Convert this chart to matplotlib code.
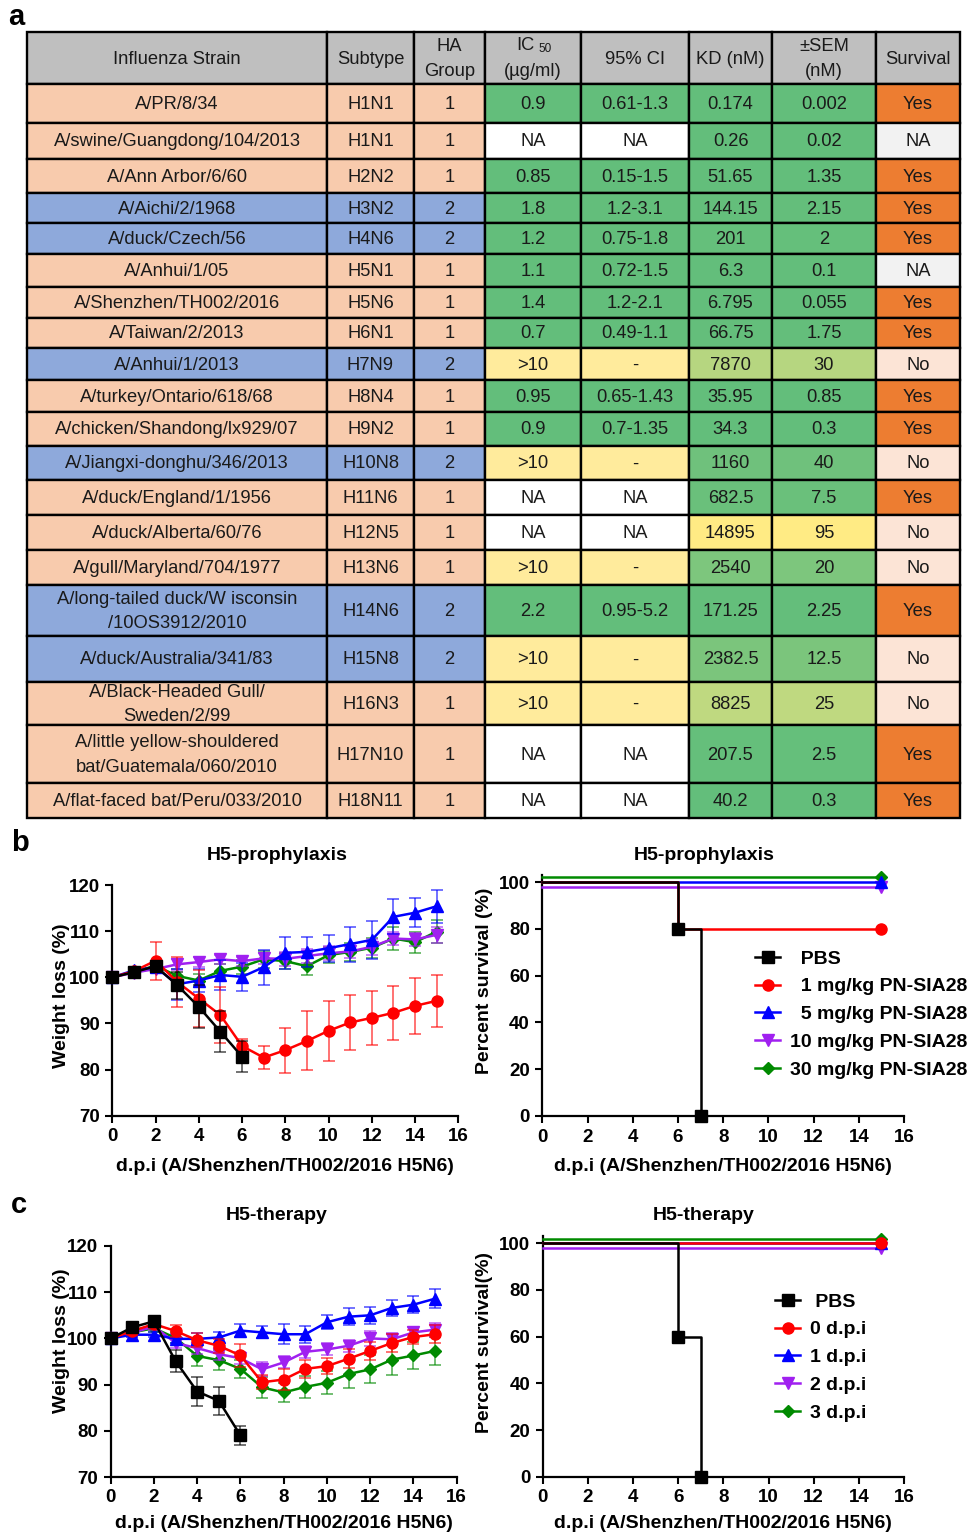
import numpy as np
import matplotlib
matplotlib.use('Agg')
import matplotlib.pyplot as plt
from matplotlib.patches import Rectangle
from matplotlib.lines import Line2D
from matplotlib.colors import LinearSegmentedColormap
import matplotlib.transforms as mtransforms

plt.rcParams['font.family'] = ['Liberation Sans', 'DejaVu Sans']
plt.rcParams['font.weight'] = 'bold'

W, H, DPI = 971, 1532, 100

# ---------------- table data (panel a) ----------------
headers = ['Influenza Strain', 'Subtype', 'HA\nGroup', 'IC50', '95% CI', 'KD (nM)', '±SEM\n(nM)', 'Survival']
strains = ['A/PR/8/34', 'A/swine/Guangdong/104/2013', 'A/Ann Arbor/6/60', 'A/Aichi/2/1968',
           'A/duck/Czech/56', 'A/Anhui/1/05', 'A/Shenzhen/TH002/2016', 'A/Taiwan/2/2013',
           'A/Anhui/1/2013', 'A/turkey/Ontario/618/68', 'A/chicken/Shandong/lx929/07',
           'A/Jiangxi-donghu/346/2013', 'A/duck/England/1/1956', 'A/duck/Alberta/60/76',
           'A/gull/Maryland/704/1977', 'A/long-tailed duck/W isconsin\n/10OS3912/2010',
           'A/duck/Australia/341/83', 'A/Black-Headed Gull/\nSweden/2/99',
           'A/little yellow-shouldered\nbat/Guatemala/060/2010', 'A/flat-faced bat/Peru/033/2010']
subtypes = ['H1N1', 'H1N1', 'H2N2', 'H3N2', 'H4N6', 'H5N1', 'H5N6', 'H6N1', 'H7N9', 'H8N4',
            'H9N2', 'H10N8', 'H11N6', 'H12N5', 'H13N6', 'H14N6', 'H15N8', 'H16N3', 'H17N10', 'H18N11']
ha_group = [1, 1, 1, 2, 2, 1, 1, 1, 2, 1, 1, 2, 1, 1, 1, 2, 2, 1, 1, 1]
ic50 = ['0.9', 'NA', '0.85', '1.8', '1.2', '1.1', '1.4', '0.7', '>10', '0.95', '0.9', '>10',
        'NA', 'NA', '>10', '2.2', '>10', '>10', 'NA', 'NA']
ci95 = ['0.61-1.3', 'NA', '0.15-1.5', '1.2-3.1', '0.75-1.8', '0.72-1.5', '1.2-2.1', '0.49-1.1',
        '-', '0.65-1.43', '0.7-1.35', '-', 'NA', 'NA', '-', '0.95-5.2', '-', '-', 'NA', 'NA']
kd = [0.174, 0.26, 51.65, 144.15, 201, 6.3, 6.795, 66.75, 7870, 35.95, 34.3, 1160, 682.5,
      14895, 2540, 171.25, 2382.5, 8825, 207.5, 40.2]
kd_sem = [0.002, 0.02, 1.35, 2.15, 2, 0.1, 0.055, 1.75, 30, 0.85, 0.3, 40, 7.5, 95, 20, 2.25,
          12.5, 25, 2.5, 0.3]
survival = ['Yes', 'NA', 'Yes', 'Yes', 'Yes', 'NA', 'Yes', 'Yes', 'No', 'Yes', 'Yes', 'No',
            'Yes', 'No', 'No', 'Yes', 'No', 'No', 'Yes', 'Yes']

# ---------------- weight data (panels b, c) ----------------
days = np.arange(16)
b_pbs = [100, 101.1, 102.4, 98.3, 93.6, 88.2, 82.8]
b_pbs_err = [0.3, 0.8, 1.0, 2.9, 4.7, 4.4, 3.3]
b_1mg = [100, 101.3, 103.6, 99.0, 95.4, 91.8, 85.1, 82.6, 84.2, 86.2, 88.4, 90.2, 91.2, 92.3, 93.8, 94.9]
b_1mg_err = [0.3, 0.8, 4.1, 5.4, 6.1, 6.1, 1.5, 2.4, 4.9, 6.4, 6.5, 6.0, 5.9, 5.8, 6.1, 5.6]
b_5mg = [100, 101.5, 102.2, 98.5, 99.3, 100.5, 100.1, 102.2, 105.3, 105.5, 106.3, 107.2, 108.1, 113.1, 114.0, 115.4]
b_5mg_err = [0.3, 0.8, 1.0, 3.4, 2.5, 3.2, 3.1, 3.8, 3.4, 3.3, 2.9, 3.8, 4.1, 3.8, 3.1, 3.6]
b_10mg = [100, 101.0, 101.8, 102.8, 103.3, 103.9, 103.5, 104.1, 104.0, 104.6, 105.2, 105.6, 106.6, 108.4, 108.2, 109.2]
b_10mg_err = [0.3, 0.6, 0.8, 1.2, 1.0, 1.0, 1.0, 1.2, 1.5, 1.5, 1.5, 1.5, 1.8, 1.5, 1.4, 1.7]
b_30mg = [100, 101.2, 102.5, 100.3, 99.3, 101.4, 102.3, 103.9, 103.5, 102.4, 104.8, 105.5, 106.4, 108.4, 107.6, 109.9]
b_30mg_err = [0.3, 0.6, 0.8, 1.4, 1.5, 1.4, 1.5, 1.8, 1.8, 2.0, 1.8, 2.0, 2.2, 2.5, 2.3, 2.5]

c_pbs = [100, 102.4, 103.7, 95.1, 88.5, 86.5, 79.0]
c_pbs_err = [0.3, 0.7, 0.7, 2.3, 3.1, 3.0, 2.0]
c_0dpi = [100, 101.6, 103.1, 101.6, 99.6, 98.4, 96.3, 90.5, 91.1, 93.4, 94.0, 95.6, 97.3, 99.0, 100.3, 100.9]
c_0dpi_err = [0.3, 0.8, 0.8, 1.2, 1.5, 1.5, 2.5, 1.5, 2.2, 2.0, 1.8, 2.0, 2.0, 2.0, 1.5, 2.0]
c_1dpi = [100, 100.8, 100.8, 99.9, 99.9, 100.2, 101.7, 101.3, 100.9, 100.9, 103.5, 104.7, 105.0, 106.6, 107.3, 108.6]
c_1dpi_err = [0.3, 0.6, 0.6, 1.0, 1.3, 1.2, 1.4, 1.3, 2.2, 1.8, 1.5, 1.8, 1.8, 1.8, 1.8, 2.1]
c_2dpi = [100, 101.2, 102.6, 99.0, 97.9, 96.6, 95.7, 93.3, 94.8, 97.1, 97.6, 98.4, 100.0, 99.8, 101.3, 101.9]
c_2dpi_err = [0.3, 0.8, 0.8, 1.0, 1.2, 1.3, 1.3, 1.5, 1.3, 1.3, 1.3, 1.3, 1.7, 1.3, 1.2, 1.5]
c_3dpi = [100, 101.3, 102.2, 100.1, 96.2, 95.3, 93.4, 89.4, 88.3, 89.5, 90.4, 92.3, 93.3, 95.4, 96.3, 97.3]
c_3dpi_err = [0.3, 0.8, 0.8, 1.2, 2.2, 2.2, 2.0, 2.3, 2.0, 2.3, 2.5, 3.0, 3.0, 3.3, 3.0, 3.0]

# ---------------- survival data ----------------
b_surv_t = {'pbs': [0, 6, 7], '1': [0, 6, 15], '5': [0, 15], '10': [0, 15], '30': [0, 15]}
b_surv_v = {'pbs': [100, 80, 0], '1': [100, 80, 80], '5': [100, 100], '10': [100, 100], '30': [100, 100]}
c_surv_t = {'pbs': [0, 6, 7], '0': [0, 15], '1': [0, 15], '2': [0, 15], '3': [0, 15]}
c_surv_v = {'pbs': [100, 60, 0], '0': [100, 100], '1': [100, 100], '2': [100, 100], '3': [100, 100]}

b_labels = ['  PBS', '  1 mg/kg PN-SIA28', '  5 mg/kg PN-SIA28', '10 mg/kg PN-SIA28', '30 mg/kg PN-SIA28']
c_labels = [' PBS', '0 d.p.i', '1 d.p.i', '2 d.p.i', '3 d.p.i']

# ---------------- styles ----------------
BLACK, RED, BLUE, PURPLE, GREEN = 'black', '#FF0000', '#0000FF', '#A020F0', '#008A00'
styles = [(BLACK, 's', 8), (RED, 'o', 8), (BLUE, '^', 8.5), (PURPLE, 'v', 8.5), (GREEN, 'D', 6)]

fig = plt.figure(figsize=(W / DPI, H / DPI), dpi=DPI)
bg = fig.add_axes([0, 0, 1, 1])
bg.set_xlim(0, W)
bg.set_ylim(H, 0)
bg.axis('off')

# ---------------- table ----------------
col_edges = [27, 327, 414, 485, 581, 689, 772, 876, 960]
row_edges = [32, 84, 123, 159, 193, 223, 254, 287, 318, 348, 380, 412, 446, 480, 515, 550,
             585, 636, 682, 725, 783, 818]
TFS = 13.2
TXT = '#1a1a1a'
group_col = {1: '#F8CBAD', 2: '#8EA9DB'}
surv_col = {'Yes': '#ED7D31', 'No': '#FCE4D6', 'NA': '#F2F2F2'}
kd_cmap = LinearSegmentedColormap.from_list('gy', ['#63BE7B', '#FFEB84'])


def ic_color(v):
    if v == 'NA':
        return 'white'
    if v.startswith('>'):
        return '#FFEB9C'
    return '#63BE7B'


def cell(ci, ri, text, color):
    x0, x1 = col_edges[ci], col_edges[ci + 1]
    y0, y1 = row_edges[ri], row_edges[ri + 1]
    bg.add_patch(Rectangle((x0, y0), x1 - x0, y1 - y0, facecolor=color, edgecolor='black',
                           linewidth=1.7, zorder=1))
    if text:
        bg.text((x0 + x1) / 2, (y0 + y1) / 2 + 1, text, ha='center', va='center', fontsize=TFS,
                fontweight='normal', color=TXT, linespacing=1.6, zorder=2)


for ci, h in enumerate(headers):
    cell(ci, 0, '' if h == 'IC50' else h, '#BFBFBF')
# IC 50 header with small subscript
cx = (col_edges[3] + col_edges[4]) / 2
bg.text(cx + 1, 46, 'IC', ha='right', va='center', fontsize=TFS, fontweight='normal', color=TXT)
bg.text(cx + 5, 49, '50', ha='left', va='center', fontsize=8.5, fontweight='normal', color=TXT)
bg.text(cx, 72, '(µg/ml)', ha='center', va='center', fontsize=TFS, fontweight='normal', color=TXT)

kd_max = max(kd)
for i in range(len(strains)):
    r = i + 1
    gc = group_col[ha_group[i]]
    cell(0, r, strains[i], gc)
    cell(1, r, subtypes[i], gc)
    cell(2, r, str(ha_group[i]), gc)
    cell(3, r, ic50[i], ic_color(ic50[i]))
    cell(4, r, ci95[i], ic_color(ic50[i]))
    kc = kd_cmap(kd[i] / kd_max)
    cell(5, r, '{:g}'.format(kd[i]), kc)
    cell(6, r, '{:g}'.format(kd_sem[i]), kc)
    cell(7, r, survival[i], surv_col[survival[i]])

# panel letters
bg.text(8, 17, 'a', fontsize=21, fontweight='bold', va='center', ha='left')
bg.text(11, 843, 'b', fontsize=21, fontweight='bold', va='center', ha='left')
bg.text(11, 1205, 'c', fontsize=21, fontweight='bold', va='center', ha='left')


def frac_rect(x0, y_top, x1, y_bot):
    return [x0 / W, 1 - y_bot / H, (x1 - x0) / W, (y_bot - y_top) / H]


def style_axes(ax):
    ax.spines[['top', 'right']].set_visible(False)
    for s in ['left', 'bottom']:
        ax.spines[s].set_linewidth(1.6)
    ax.tick_params(width=1.5, length=5, labelsize=13.5, pad=4)
    for lab in ax.get_xticklabels() + ax.get_yticklabels():
        lab.set_fontweight('bold')


def weight_panel(rect, series, errs, ylab_y):
    ax = fig.add_axes(rect)
    order = [4, 3, 2, 1, 0]
    for k in order:
        col, mk, ms = styles[k]
        vals = series[k]
        d = days[:len(vals)]
        cont = ax.errorbar(d, vals, yerr=errs[k], color=col, marker=mk, ms=ms, lw=1.8,
                           ecolor=matplotlib.colors.to_rgba(col, 0.7), elinewidth=1.1,
                           capsize=4, capthick=1.1, zorder=3 + (5 - k))
        for art in cont.get_children():
            art.set_clip_on(False)
    ax.set_xlim(0, 16)
    ax.set_ylim(70, 120)
    ax.set_xticks(range(0, 17, 2))
    ax.set_yticks(range(70, 121, 10))
    style_axes(ax)
    ax.set_ylabel('Weight loss (%)', fontsize=14, fontweight='bold')
    ax.yaxis.set_label_coords(-0.122, ylab_y)
    ax.set_xlabel('d.p.i (A/Shenzhen/TH002/2016 H5N6)', fontsize=14, fontweight='bold')
    return ax


def survival_panel(rect, times, vals, keys, labels, ylabel, leg_xy):
    ax = fig.add_axes(rect)
    offsets = {0: 0, 1: 0, 2: 0, 3: -3.4, 4: 3.4}
    order = [2, 1, 3, 4, 0]
    for k in order:
        col, mk, ms = styles[k]
        tr = ax.transData + mtransforms.ScaledTranslation(0, offsets[k] / 72, fig.dpi_scale_trans)
        ax.plot(times[keys[k]], vals[keys[k]], drawstyle='steps-post', color=col, lw=1.8,
                marker=mk, ms=ms, markevery=slice(1, None), transform=tr, clip_on=False,
                zorder=3 + (5 - k))
    ax.set_xlim(0, 16)
    ax.set_ylim(0, 103)
    ax.set_xticks(range(0, 17, 2))
    ax.set_yticks(range(0, 101, 20))
    style_axes(ax)
    ax.set_ylabel(ylabel, fontsize=14, fontweight='bold')
    ax.yaxis.set_label_coords(-0.137, 0.56)
    ax.set_xlabel('d.p.i (A/Shenzhen/TH002/2016 H5N6)', fontsize=14, fontweight='bold')
    handles = [Line2D([], [], color=c, marker=m, ms=s, lw=1.8) for c, m, s in styles]
    ax.legend(handles, labels, loc='upper left', bbox_to_anchor=(leg_xy[0] / W, 1 - leg_xy[1] / H),
              bbox_transform=fig.transFigure, frameon=False, prop={'size': 14, 'weight': 'bold'},
              handlelength=1.3, handletextpad=0.5, labelspacing=0.52, borderaxespad=0, borderpad=0)
    return ax


# panel b
axb1 = weight_panel(frac_rect(112.3, 885, 458.3, 1115.7),
                    [b_pbs, b_1mg, b_5mg, b_10mg, b_30mg],
                    [b_pbs_err, b_1mg_err, b_5mg_err, b_10mg_err, b_30mg_err], 0.52)
axb1.xaxis.set_label_coords(0.5, -0.182)
axb2 = survival_panel(frac_rect(542.3, 875, 904, 1116), b_surv_t, b_surv_v,
                      ['pbs', '1', '5', '10', '30'], b_labels, 'Percent survival (%)', (755, 950))
axb2.xaxis.set_label_coords(0.5, -0.174)
fig.text(277 / W, 1 - 856 / H, 'H5-prophylaxis', ha='center', va='center', fontsize=14, fontweight='bold')
fig.text(704 / W, 1 - 856 / H, 'H5-prophylaxis', ha='center', va='center', fontsize=14, fontweight='bold')

# panel c
axc1 = weight_panel(frac_rect(110.7, 1246, 456.7, 1477),
                    [c_pbs, c_0dpi, c_1dpi, c_2dpi, c_3dpi],
                    [c_pbs_err, c_0dpi_err, c_1dpi_err, c_2dpi_err, c_3dpi_err], 0.59)
axc1.yaxis.set_label_coords(-0.118, 0.59)
axc1.xaxis.set_label_coords(0.5, -0.165)
axc2 = survival_panel(frac_rect(542.7, 1236.3, 904, 1476.7), c_surv_t, c_surv_v,
                      ['pbs', '0', '1', '2', '3'], c_labels, 'Percent survival(%)', (775, 1293))
axc2.xaxis.set_label_coords(0.5, -0.158)
fig.text(277 / W, 1 - 1216 / H, 'H5-therapy', ha='center', va='center', fontsize=14, fontweight='bold')
fig.text(704 / W, 1 - 1216 / H, 'H5-therapy', ha='center', va='center', fontsize=14, fontweight='bold')

fig.savefig('out.png', dpi=DPI)
